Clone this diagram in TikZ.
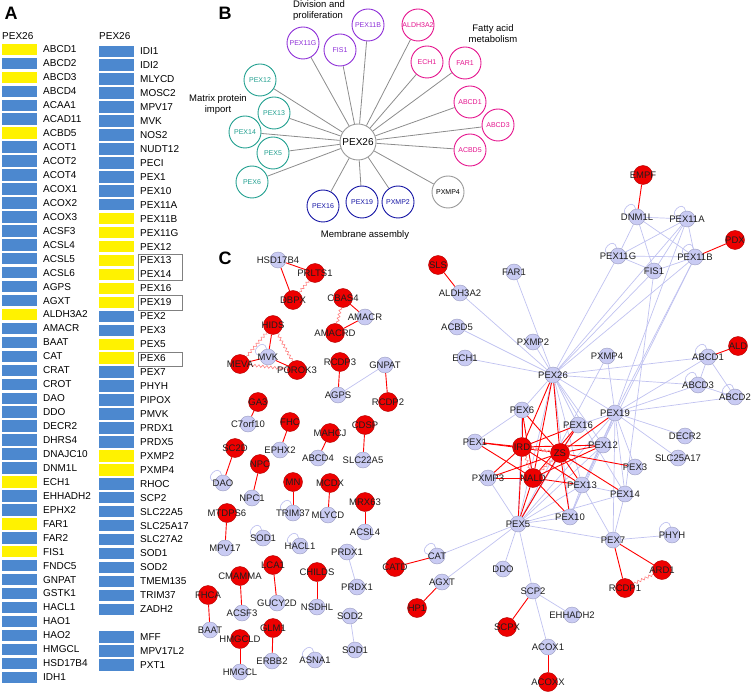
\documentclass[tikz,border=0pt]{standalone}
\usepackage{fontspec}
\setmainfont{Liberation Sans}
\usetikzlibrary{shapes, positioning, backgrounds, decorations.pathmorphing}

\definecolor{baryel}{HTML}{FFF200}
\definecolor{barblu}{HTML}{4C88CF}
\definecolor{divpurple}{HTML}{8E2FD8}
\definecolor{fatpink}{HTML}{E5158E}
\definecolor{impteal}{HTML}{22A090}
\definecolor{memblue}{HTML}{1515A5}
\definecolor{hubgray}{HTML}{9A9A9A}
\definecolor{genefill}{HTML}{C9CBF3}
\definecolor{genedraw}{HTML}{9A9CC0}
\definecolor{disfill}{HTML}{EE0000}
\definecolor{disdraw}{HTML}{B00000}
\definecolor{lavline}{HTML}{C0C2F0}
\definecolor{wavepink}{HTML}{FF8080}
\definecolor{lbltext}{HTML}{1E1E1E}

\tikzset{
  every loop/.style={},
  bar/.style={rectangle, minimum width=35pt, minimum height=11.5pt, inner sep=0pt},
  alab/.style={anchor=west, inner sep=0pt, font=\fontsize{10}{12}\selectfont},
  bcirc/.style={circle, draw=#1, text=#1, fill=white, line width=0.9pt, minimum size=32pt, inner sep=0pt, font=\fontsize{7}{8}\selectfont},
  bedge/.style={draw=gray!90, line width=0.8pt},
  cat/.style={align=center, inner sep=0pt, font=\fontsize{9.5}{11}\selectfont},
  clab/.style={inner sep=0pt, text=lbltext, font=\fontsize{9.5}{10}\selectfont},
  gene/.style={circle, draw=genedraw, fill=genefill, line width=0.4pt, minimum size=16pt, inner sep=0pt, label={[clab]center:#1}},
  dis/.style={circle, draw=disdraw, fill=disfill, line width=0.4pt, minimum size=19pt, inner sep=0pt, label={[clab]center:#1}},
  ledge/.style={draw=lavline, line width=0.7pt},
  redge/.style={draw=red, line width=0.9pt},
  wavy/.style={draw=wavepink, line width=0.6pt, decorate, decoration={snake, amplitude=1.3pt, segment length=4pt}},
  selfl/.style={ledge, loop, out=170, in=100, min distance=7pt, looseness=3.5},
  panel/.style={inner sep=0pt, font=\fontsize{18}{20}\selectfont\bfseries}
}

\begin{document}
\begin{tikzpicture}[x=1pt, y=-1pt]
  \useasboundingbox (0,0) rectangle (754,692);

  % Panel letters
  \node[panel] (pA) at (11,13) {A};
  \node[panel] (pB) at (225,13.5) {B};
  \node[panel] (pC) at (225,258.5) {C};

  % A: gene bars
  \node[alab] (hdL) at (2,36) {PEX26};
  \node[alab] (hdR) at (99,36) {PEX26};
  \foreach \g/\c [count=\i from 0] in {ABCD1/baryel, ABCD2/barblu, ABCD3/baryel, ABCD4/barblu,
      ACAA1/barblu, ACAD11/barblu, ACBD5/baryel, ACOT1/barblu, ACOT2/barblu, ACOT4/barblu,
      ACOX1/barblu, ACOX2/barblu, ACOX3/barblu, ACSF3/barblu, ACSL4/barblu, ACSL5/barblu,
      ACSL6/barblu, AGPS/barblu, AGXT/barblu, ALDH3A2/baryel, AMACR/barblu, BAAT/barblu,
      CAT/barblu, CRAT/barblu, CROT/barblu, DAO/barblu, DDO/barblu, DECR2/barblu, DHRS4/barblu,
      DNAJC10/barblu, DNM1L/barblu, ECH1/baryel, EHHADH2/barblu, EPHX2/barblu, FAR1/baryel,
      FAR2/barblu, FIS1/baryel, FNDC5/barblu, GNPAT/barblu, GSTK1/barblu, HACL1/barblu,
      HAO1/barblu, HAO2/barblu, HMGCL/barblu, HSD17B4/barblu, IDH1/barblu} {
    \node[bar, fill=\c] (aL\i) at (19.2,{49.5+13.95*\i}) {};
    \node[alab] (aLt\i) at (43,{49.5+13.95*\i}) {\g};
  }
  \foreach \g/\c [count=\i from 0] in {IDI1/barblu, IDI2/barblu, MLYCD/barblu, MOSC2/barblu,
      MPV17/barblu, MVK/barblu, NOS2/barblu, NUDT12/barblu, PECI/barblu, PEX1/barblu,
      PEX10/barblu, PEX11A/barblu, PEX11B/baryel, PEX11G/baryel, PEX12/baryel, PEX13/baryel,
      PEX14/baryel, PEX16/baryel, PEX19/baryel, PEX2/barblu, PEX3/barblu, PEX5/baryel,
      PEX6/baryel, PEX7/barblu, PHYH/barblu, PIPOX/barblu, PMVK/barblu, PRDX1/barblu,
      PRDX5/barblu, PXMP2/baryel, PXMP4/baryel, RHOC/barblu, SCP2/barblu, SLC22A5/barblu,
      SLC25A17/barblu, SLC27A2/barblu, SOD1/barblu, SOD2/barblu, TMEM135/barblu,
      TRIM37/barblu, ZADH2/barblu} {
    \node[bar, fill=\c] (aR\i) at (116.3,{51.3+13.95*\i}) {};
    \node[alab] (aRt\i) at (140,{51.3+13.95*\i}) {\g};
  }
  \foreach \g [count=\i from 42] in {MFF, MPV17L2, PXT1} {
    \node[bar, fill=barblu] (aR\i) at (116.3,{51.3+13.95*\i}) {};
    \node[alab] (aRt\i) at (140,{51.3+13.95*\i}) {\g};
  }
  \draw[gray, line width=0.6pt] (138,254.5) rectangle (182,280);
  \draw[gray, line width=0.6pt] (138,295.5) rectangle (182,310);
  \draw[gray, line width=0.6pt] (138,352.5) rectangle (182,366);

  % B: PEX26 interaction partners
  \node[bcirc=hubgray, minimum size=36pt, text=black, font=\fontsize{10}{11}\selectfont] (b26) at (358,142) {PEX26};
  \node[bcirc=divpurple] (bPEX11G) at (303,43) {PEX11G};
  \node[bcirc=divpurple] (bFIS1) at (340,50) {FIS1};
  \node[bcirc=divpurple] (bPEX11B) at (368,25) {PEX11B};
  \node[bcirc=fatpink] (bALDH) at (418,25) {ALDH3A2};
  \node[bcirc=fatpink] (bECH1) at (427,62) {ECH1};
  \node[bcirc=fatpink] (bFAR1) at (465,63) {FAR1};
  \node[bcirc=fatpink] (bABCD1) at (470,102) {ABCD1};
  \node[bcirc=fatpink] (bABCD3) at (498,125) {ABCD3};
  \node[bcirc=fatpink] (bACBD5) at (470,150) {ACBD5};
  \node[bcirc=hubgray, text=black] (bPXMP4) at (448,192) {PXMP4};
  \node[bcirc=memblue] (bPXMP2) at (398,202) {PXMP2};
  \node[bcirc=memblue] (bPEX19) at (362,202) {PEX19};
  \node[bcirc=memblue] (bPEX16) at (323,206) {PEX16};
  \node[bcirc=impteal] (bPEX6) at (252,182) {PEX6};
  \node[bcirc=impteal] (bPEX5) at (273,153) {PEX5};
  \node[bcirc=impteal] (bPEX14) at (245,132) {PEX14};
  \node[bcirc=impteal] (bPEX13) at (274,113) {PEX13};
  \node[bcirc=impteal] (bPEX12) at (260,80) {PEX12};
  \node[cat, align=left, anchor=west] (tDiv) at (293,11) {Division and\\proliferation};
  \node[cat] (tFat) at (493,33.5) {Fatty acid\\metabolism};
  \node[cat] (tImp) at (218,105) {Matrix protein\\import};
  \node[cat] (tMem) at (365,235) {Membrane assembly};
  \begin{scope}[on background layer]
    \foreach \s in {bPEX11G, bFIS1, bPEX11B, bALDH, bECH1, bFAR1, bABCD1, bABCD3, bACBD5,
        bPXMP4, bPXMP2, bPEX19, bPEX16, bPEX6, bPEX5, bPEX14, bPEX13, bPEX12}
      \draw[bedge] (b26) -- (\s);
  \end{scope}

  % C: small modules
  \node[gene=HSD17B4] (cHSD) at (278,260) {};
  \node[dis=PRLTS1] (cPRLTS) at (315,273) {};
  \node[dis=DBPX] (cDBPX) at (293,300) {};
  \node[dis=CBAS4] (cCBAS) at (343,298) {};
  \node[gene=AMACR] (cAMACR) at (365,317) {};
  \node[dis=AMACRD] (cAMACRD) at (335,333) {};
  \node[dis=HIDS] (cHIDS) at (273,325) {};
  \node[gene=MVK] (cMVK) at (268,357) {};
  \node[dis=MEVA] (cMEVA) at (240,364) {};
  \node[dis=POROK3] (cPOROK) at (297,370) {};
  \node[dis=RCDP3] (cRCDPc) at (340,362) {};
  \node[gene=GNPAT] (cGNPAT) at (385,365) {};
  \node[gene=AGPS] (cAGPS) at (338,395) {};
  \node[dis=RCDP2] (cRCDPb) at (388,402) {};
  \node[dis=GA3] (cGA) at (258,402) {};
  \node[gene=C7orf10] (cC7) at (248,424) {};
  \node[dis=FHC] (cFHC) at (290,422) {};
  \node[dis=CDSP] (cCDSP) at (365,425) {};
  \node[dis=MAHCJ] (cMAHCJ) at (330,433) {};
  \node[dis=SC2D] (cSC2D) at (235,448) {};
  \node[gene=EPHX2] (cEPHX) at (280,450) {};
  \node[gene=ABCD4] (cABCDd) at (318,458) {};
  \node[gene=SLC22A5] (cSLCtt) at (363,460) {};
  \node[dis=NPC] (cNPC) at (260,464) {};
  \node[gene=DAO] (cDAO) at (223,483) {};
  \node[dis=MN] (cMN) at (293,482) {};
  \node[dis=MCDX] (cMCDX) at (330,483) {};
  \node[gene=NPC1] (cNPCa) at (252,498) {};
  \node[dis=MRX63] (cMRX) at (365,502) {};
  \node[dis=MTDPS6] (cMTDPS) at (227,513) {};
  \node[gene=TRIM37] (cTRIM) at (293,513) {};
  \node[gene=MLYCD] (cMLYCD) at (328,515) {};
  \node[gene=ACSL4] (cACSL) at (365,532) {};
  \node[gene=SOD1] (cSODa) at (263,538) {};
  \node[gene=HACL1] (cHACL) at (300,546) {};
  \node[gene=MPV17] (cMPV) at (225,548) {};
  \node[gene=PRDX1] (cPRDXa) at (347,552) {};
  \node[dis=LCA1] (cLCA) at (273,565) {};
  \node[dis=CHILDS] (cCHILDS) at (317,572) {};
  \node[dis=CMAMMA] (cCMAMMA) at (240,576) {};
  \node[gene=PRDX1] (cPRDXb) at (357,587) {};
  \node[dis=FHCA] (cFHCA) at (208,595) {};
  \node[gene=GUCY2D] (cGUCY) at (277,603) {};
  \node[gene=NSDHL] (cNSDHL) at (317,607) {};
  \node[gene=ACSF3] (cACSF) at (242,613) {};
  \node[gene=SOD2] (cSODb) at (350,616) {};
  \node[dis=GLM1] (cGLM) at (273,628) {};
  \node[gene=BAAT] (cBAAT) at (210,630) {};
  \node[dis=HMGCLD] (cHMGCLD) at (240,639) {};
  \node[gene=SOD1] (cSODc) at (355,650) {};
  \node[gene=ASNA1] (cASNA) at (315,660) {};
  \node[gene=ERBB2] (cERBB) at (272,661) {};
  \node[gene=HMGCL] (cHMGCL) at (240,672) {};

  % C: peroxisome network
  \node[dis=EMPF] (cEMPF) at (643,175) {};
  \node[gene=DNM1L] (cDNM) at (637,217) {};
  \node[gene=PEX11A] (c11a) at (687,219) {};
  \node[dis=PDX] (cPDX) at (735,240) {};
  \node[gene=PEX11G] (c11g) at (618,256) {};
  \node[gene=PEX11B] (c11b) at (695,257) {};
  \node[gene=FIS1] (cFIS) at (654,271) {};
  \node[dis=SLS] (cSLS) at (438,265) {};
  \node[gene=ALDH3A2] (cALDH) at (460,293) {};
  \node[gene=FAR1] (cFAR) at (514,272) {};
  \node[gene=ACBD5] (cACBD) at (457,327) {};
  \node[gene=PXMP2] (cPXb) at (533,342) {};
  \node[gene=ECH1] (cECH) at (465,358) {};
  \node[gene=PXMP4] (cPXd) at (607,356) {};
  \node[gene=ABCD1] (cABCDa) at (708,357) {};
  \node[dis=ALD] (cALD) at (738,346) {};
  \node[gene=PEX26] (c26) at (553,375) {};
  \node[gene=ABCD3] (cABCDc) at (698,385) {};
  \node[gene=ABCD2] (cABCDb) at (735,397) {};
  \node[gene=PEX6] (c6) at (522,410) {};
  \node[gene=PEX19] (c19) at (615,413) {};
  \node[gene=PEX16] (c16) at (578,425) {};
  \node[gene=DECR2] (cDECR) at (685,436) {};
  \node[gene=PEX1] (c1) at (475,442) {};
  \node[gene=PEX12] (c12) at (603,445) {};
  \node[gene=SLC25A17] (cSLCtf) at (678,458) {};
  \node[gene=PEX3] (c3) at (635,467) {};
  \node[gene=PXMP3] (cPXc) at (488,478) {};
  \node[gene=PEX13] (c13) at (582,485) {};
  \node[gene=PEX14] (c14) at (625,494) {};
  \node[gene=PEX10] (c10) at (570,517) {};
  \node[gene=PEX5] (c5) at (518,524) {};
  \node[gene=PEX7] (c7) at (613,540) {};
  \node[gene=PHYH] (cPHYH) at (672,535) {};
  \node[gene=CAT] (cCAT) at (437,556) {};
  \node[dis=CATD] (cCATD) at (395,567) {};
  \node[gene=DDO] (cDDO) at (503,569) {};
  \node[dis=ARD1] (cARD) at (662,570) {};
  \node[gene=AGXT] (cAGXT) at (442,582) {};
  \node[dis=RCDP1] (cRCDPa) at (625,588) {};
  \node[gene=SCP2] (cSCP) at (533,591) {};
  \node[dis=HP1] (cHP) at (417,608) {};
  \node[gene=EHHADH2] (cEHH) at (572,615) {};
  \node[dis=SCPX] (cSCPX) at (507,627) {};
  \node[gene=ACOX1] (cACOX) at (548,647) {};
  \node[dis=ACOXX] (cACOXX) at (548,682) {};
  \node[dis=IRD] (cIRD) at (522,447) {};
  \node[dis=ZS] (cZS) at (560,453) {};
  \node[dis=NALD] (cNALD) at (533,478) {};

  % C: edges
  \begin{scope}[on background layer]
    \draw[redge] (cHSD) -- (cPRLTS);
    \draw[redge] (cHSD) -- (cDBPX);
    \draw[wavy] (cPRLTS) -- (cDBPX);
    \draw[redge] (cCBAS) -- (cAMACR);
    \draw[redge] (cAMACR) -- (cAMACRD);
    \draw[wavy] (cCBAS) -- (cAMACRD);
    \draw[redge] (cHIDS) -- (cMVK);
    \draw[redge] (cMVK) -- (cMEVA);
    \draw[redge] (cMVK) -- (cPOROK);
    \draw[wavy] (cHIDS) -- (cMEVA);
    \draw[wavy] (cHIDS) -- (cPOROK);
    \draw[wavy] (cMEVA) -- (cPOROK);
    \draw[redge] (cRCDPc) -- (cAGPS);
    \draw[ledge] (cAGPS) -- (cGNPAT);
    \draw[redge] (cGNPAT) -- (cRCDPb);
    \draw[redge] (cGA) -- (cC7);
    \draw[redge] (cFHC) -- (cEPHX);
    \draw[redge] (cMAHCJ) -- (cABCDd);
    \draw[redge] (cCDSP) -- (cSLCtt);
    \draw[redge] (cSC2D) -- (cDAO);
    \draw[redge] (cNPC) -- (cNPCa);
    \draw[redge] (cMN) -- (cTRIM);
    \draw[redge] (cMCDX) -- (cMLYCD);
    \draw[redge] (cMRX) -- (cACSL);
    \draw[redge] (cMTDPS) -- (cMPV);
    \draw[ledge] (cPRDXa) -- (cPRDXb);
    \draw[redge] (cLCA) -- (cGUCY);
    \draw[redge] (cCMAMMA) -- (cACSF);
    \draw[redge] (cCHILDS) -- (cNSDHL);
    \draw[redge] (cFHCA) -- (cBAAT);
    \draw[redge] (cHMGCLD) -- (cHMGCL);
    \draw[redge] (cGLM) -- (cERBB);
    \draw[ledge] (cSODb) -- (cSODc);
    \draw (cMVK) edge[selfl] (cMVK);
    \draw (cDAO) edge[selfl] (cDAO);
    \draw (cSODa) edge[selfl] (cSODa);
    \draw (cTRIM) edge[selfl] (cTRIM);
    \draw (cHACL) edge[selfl] (cHACL);
    \draw (cASNA) edge[selfl] (cASNA);

    % network, lavender
    \foreach \t in {cALDH, cFAR, cPXb, cACBD, cECH, c11g, cFIS, c11b, c11a, cABCDa, cABCDc,
        c19, c6, c16, c12, c13, c14, c10, c5}
      \draw[ledge] (c26) -- (\t);
    \foreach \t in {cABCDa, cABCDc, cABCDb, cDECR, cSLCtf, c3, c14, c12, c16, c13, c5, c10,
        c11b, c11a, cPXd, c7}
      \draw[ledge] (c19) -- (\t);
    \foreach \t in {c6, cPXc, c13, c12, c14, c10, c7, cCAT, cAGXT, cDDO, cSCP, c16}
      \draw[ledge] (c5) -- (\t);
    \foreach \a/\b in {cDNM/c11a, cDNM/c11g, cDNM/cFIS, cDNM/c11b, c11a/c11g, c11a/cFIS,
        c11a/c11b, c11g/cFIS, c11g/c11b, cFIS/c11b, cABCDa/cABCDc, cABCDa/cABCDb,
        cABCDc/cABCDb, c7/cPHYH, c7/c13, c7/c14, c13/c14, c12/c10, c13/c10, c6/c1,
        cSCP/cEHH, cSCP/cACOX, cPXd/c5, c11b/c13, cFIS/c14}
      \draw[ledge] (\a) -- (\b);
    \foreach \l in {cDNM, c11a, c11g, c11b, cABCDa, cABCDc, cABCDb, cPHYH, cCAT}
      \draw (\l) edge[selfl] (\l);

    % network, red
    \foreach \t in {c26, c6, c1, c16, c12, c5, cPXc, c13}
      \draw[redge] (cIRD) -- (\t);
    \foreach \t in {c26, c6, c1, c16, c19, c12, c3, c14, c13, c10, c5, cPXc}
      \draw[redge] (cZS) -- (\t);
    \foreach \t in {c26, c6, c1, c16, c12, c13, c10, c5, cPXc}
      \draw[redge] (cNALD) -- (\t);
    \draw[wavy] (cIRD) -- (cZS);
    \draw[wavy] (cIRD) -- (cNALD);
    \draw[wavy] (cZS) -- (cNALD);
    \draw[redge] (cSLS) -- (cALDH);
    \draw[redge] (cEMPF) -- (cDNM);
    \draw[redge] (cPDX) -- (c11b);
    \draw[redge] (cALD) -- (cABCDa);
    \draw[redge] (cCATD) -- (cCAT);
    \draw[redge] (cHP) -- (cAGXT);
    \draw[redge] (cSCPX) -- (cSCP);
    \draw[redge] (cACOXX) -- (cACOX);
    \draw[redge] (c7) -- (cRCDPa);
    \draw[redge] (c7) -- (cARD);
    \draw[wavy] (cRCDPa) -- (cARD);
  \end{scope}
\end{tikzpicture}
\end{document}
